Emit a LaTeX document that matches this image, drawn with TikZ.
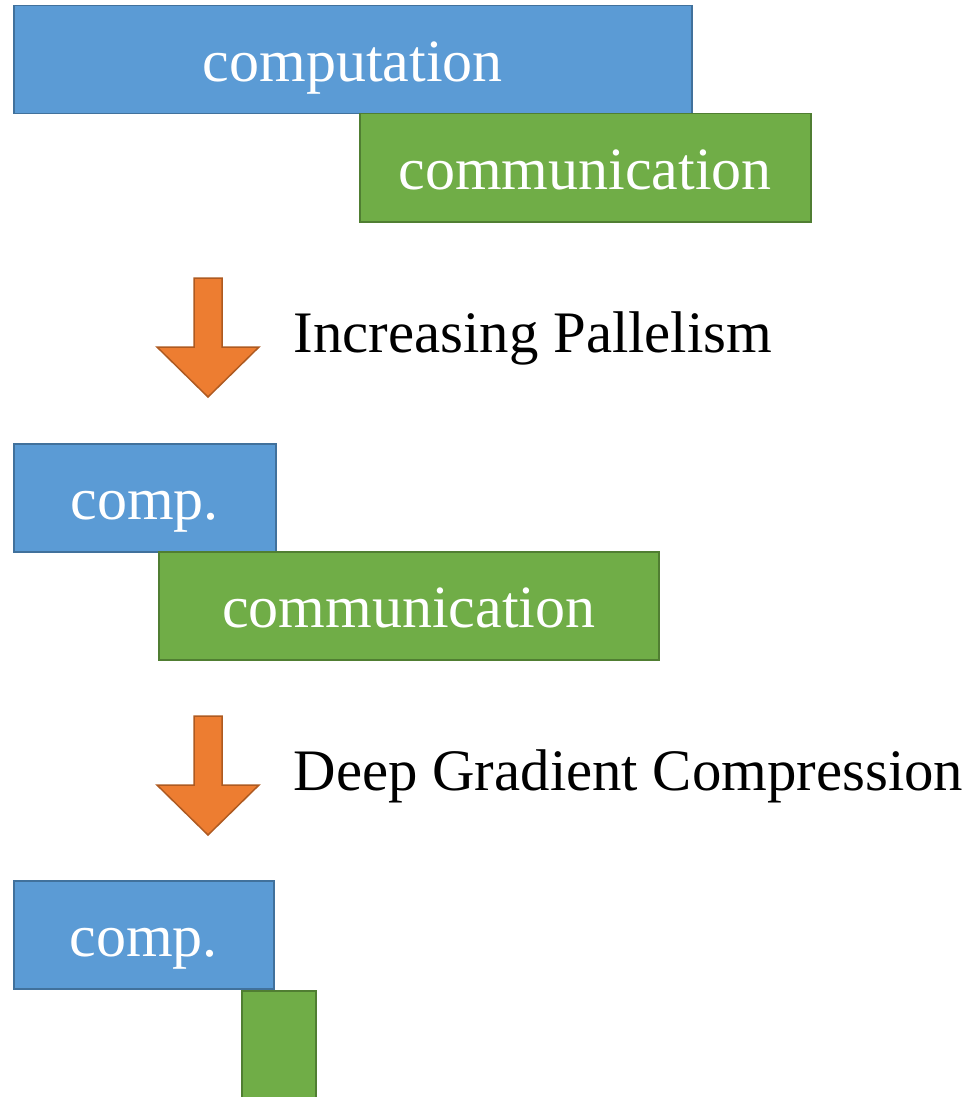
\documentclass[tikz,border=0pt]{standalone}
\usepackage{fontspec}
\setmainfont{Liberation Serif}
\usetikzlibrary{positioning}
\definecolor{compfill}{HTML}{5B9BD5}
\definecolor{compline}{HTML}{41719C}
\definecolor{commfill}{HTML}{70AD47}
\definecolor{commline}{HTML}{507E32}
\definecolor{arrowfill}{HTML}{ED7D31}
\definecolor{arrowline}{HTML}{AE5A21}

\begin{document}
\begin{tikzpicture}[x=1pt, y=-1pt, every node/.style={
    rectangle,
    inner sep=0pt,
    anchor=north west,
    minimum height=108pt,
    line width=1.5pt,
    text height=48pt,
    text depth=4pt,
    text=white,
    font=\fontsize{60}{72}\selectfont
},
compbox/.style={draw=compline, fill=compfill},
commbox/.style={draw=commline, fill=commfill},
stage_label/.style={anchor=base west, minimum height=0pt, text height=, text depth=, text=black,
    font=\fontsize{58.8}{70}\selectfont},
down_arrow/.style={draw=arrowline, fill=arrowfill, line width=1.5pt, line join=miter}]

    \useasboundingbox (0,0) rectangle (974,1097);



    \node (computation_box) [compbox, minimum width=678pt] at (13,5)
    {
        computation
    };

    \node (communication_box) [commbox, minimum width=451pt] at (359,113)
    {
        communication
    };


    \draw[down_arrow] (194,278) -- (222,278) -- (222,347) -- (259,347)
        -- (208,397) -- (157,347) -- (194,347) -- cycle;

    \node (pallelism_label) [stage_label] at (293,352)
    {
        Increasing Pallelism
    };



    \node (comp_box_two) [compbox, minimum width=262pt] at (13,443)
    {
        comp.
    };

    \node (communication_box_two) [commbox, minimum width=500pt] at (158,551)
    {
        communication
    };


    \draw[down_arrow] (194,716) -- (222,716) -- (222,785) -- (259,785)
        -- (208,835) -- (157,785) -- (194,785) -- cycle;

    \node (compression_label) [stage_label] at (293,790)
    {
        Deep Gradient Compression
    };



    \node (comp_box_three) [compbox, minimum width=260pt] at (13,880)
    {
        comp.
    };

    \node (communication_box_three) [commbox, minimum width=74pt, minimum height=120pt] at (241,990)
    {};


\end{tikzpicture}
\end{document}
